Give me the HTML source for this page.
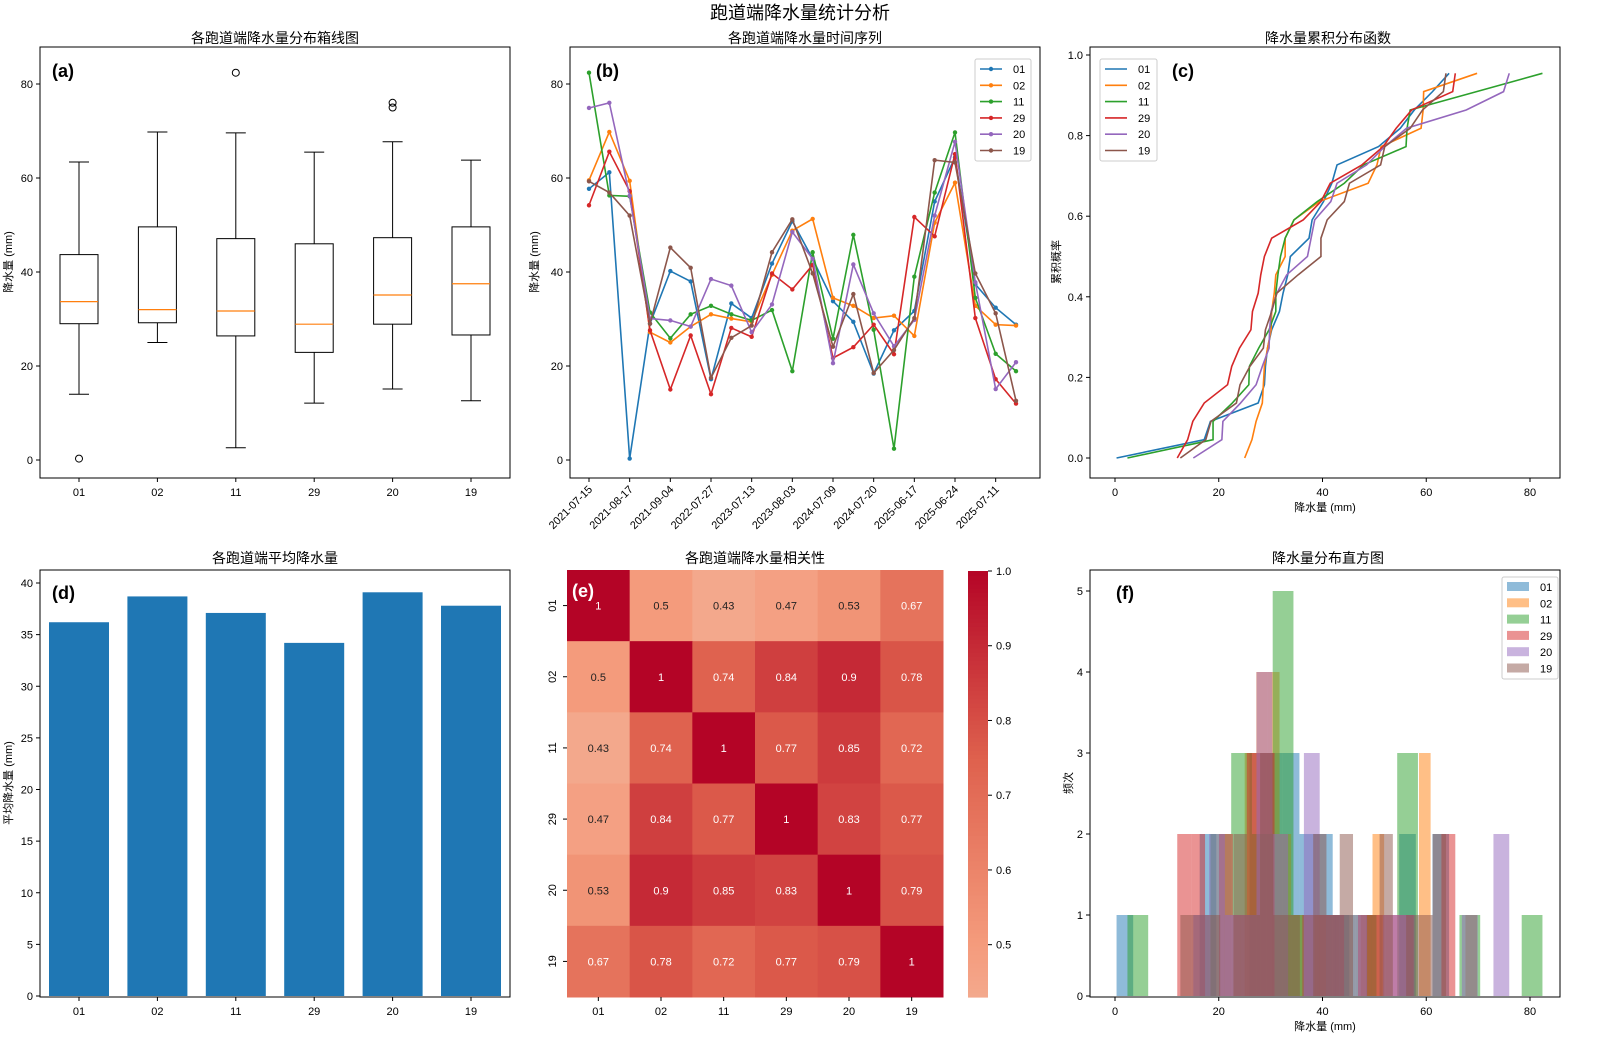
<!DOCTYPE html>
<html><head><meta charset="utf-8">
<style>
body{margin:0;background:#fff;}
svg{display:block;font-family:"Liberation Sans","Noto Sans CJK SC",sans-serif;}
</style></head>
<body>
<svg id="fig" width="1600" height="1056" viewBox="0 0 1600 1056" xmlns="http://www.w3.org/2000/svg"></svg>
<script>
const runways = ['01','02','11','29','20','19'];
const dates = ['2021-07-15','2021-08-17','2021-09-04','2022-07-27','2023-07-13','2023-08-03','2024-07-09','2024-07-20','2025-06-17','2025-06-24','2025-07-11'];
const s01 = [57.7,61.2,0.3,29,40.2,38,17.2,33.3,30.2,41.8,50.8,42.8,33.8,29.4,18.4,27.6,31.7,55,64.4,37.4,32.4,28.8];
const s02 = [59.5,69.8,59.4,27.2,25,28.4,31,30.1,29.4,39.4,48.8,51.3,34.5,32.8,30.2,30.7,26.4,50.5,59,32.8,28.8,28.6];
const s11 = [82.4,56.3,56.1,31.4,25.9,31,32.8,31,29.7,31.9,18.9,44.2,25.8,47.9,27.7,2.4,39,56.9,69.7,34.5,22.6,18.9];
const s29 = [54.2,65.6,57.2,27.6,15,26.5,14,28.1,26.2,39.7,36.3,41.5,21.7,24,28.8,22.5,51.7,47.6,65.1,30.2,17.2,12];
const s20 = [74.9,76,56.2,30.1,29.7,28.4,38.5,37.1,27.2,33.1,48.5,42.8,20.6,41.6,31.2,24.2,29.8,52,67.7,37.8,15.1,20.8];
const s19 = [59.3,56.9,52,29,45.2,40.9,17.5,26,28.6,44.2,51.2,39.7,24.1,35.3,18.5,23.4,30.2,63.8,63.3,39.7,31.2,12.6];
const boxLow = [14,25,2.6,12.1,15.1,12.6];
const boxQ1 = [29,29.2,26.4,22.9,28.9,26.6];
const boxMed = [33.7,32,31.7,28.9,35.1,37.5];
const boxQ3 = [43.7,49.6,47.1,46,47.3,49.6];
const boxHigh = [63.4,69.8,69.6,65.5,67.7,63.8];
const boxOutliers = [[0.3],[],[82.4],[],[75,76],[]];
const means = [36.2,38.7,37.1,34.2,39.1,37.8];
const corr = [
 [1,0.5,0.43,0.47,0.53,0.67],
 [0.5,1,0.74,0.84,0.9,0.78],
 [0.43,0.74,1,0.77,0.85,0.72],
 [0.47,0.84,0.77,1,0.83,0.77],
 [0.53,0.9,0.85,0.83,1,0.79],
 [0.67,0.78,0.72,0.77,0.79,1]];
const ticksA = [0,20,40,60,80];
const ticksC = [0,0.2,0.4,0.6,0.8,1.0];
const ticksCx = [0,20,40,60,80];
const ticksD = [0,5,10,15,20,25,30,35,40];
const ticksF = [0,1,2,3,4,5];
const ticksBar = [0.5,0.6,0.7,0.8,0.9,1.0];
const series = [s01,s02,s11,s29,s20,s19];
const colors = ['#1f77b4','#ff7f0e','#2ca02c','#d62728','#9467bd','#8c564b'];
const NBINS = 20;

const svg = document.getElementById('fig');
const NS='http://www.w3.org/2000/svg';
function mk(tag, attrs, parent){const e=document.createElementNS(NS,tag);for(const k in attrs)e.setAttribute(k,attrs[k]);(parent||svg).appendChild(e);return e;}
function txt(x,y,s,size,anchor,extra){const e=mk('text',Object.assign({x:x,y:y,'font-size':size,'text-anchor':anchor||'middle',fill:'#000'},extra||{}));e.textContent=s;return e;}

let t=txt(800,19,'跑道端降水量统计分析',18);



function frame(x0,y0,x1,y1,name){const r=mk('rect',{x:x0,y:y0,width:x1-x0,height:y1-y0,fill:'none',stroke:'#000','stroke-width':1});

}
function ytick(x,y,label,name){const l=mk('line',{x1:x-4,y1:y,x2:x,y2:y,stroke:'#000'});


const e=txt(x-7,y+4,label,11,'end');

}
function xtick(x,y,label,name){const l=mk('line',{x1:x,y1:y,x2:x,y2:y+4,stroke:'#000'});


const e=txt(x,y+18,label,11);

}
function ptitle(x,y,s,name){const e=txt(x,y,s,14);

}
function plabel(x,y,s,name,fill){const e=txt(x,y,s,18,'start',{'font-weight':'bold',fill:fill||'#000'});

}
function vlabel(x,y,s,name){const e=txt(x,y,s,11,'middle',{transform:'rotate(-90 '+x+' '+y+')'});

}

// ===== (a) box plot =====
const ax0={x0:40,x1:510,y0:47,y1:478};
const aY=v=>460-v*4.7, catX=i=>79+i*78.4;
ptitle(275,43,'各跑道端降水量分布箱线图','box-title');
frame(ax0.x0,ax0.y0,ax0.x1,ax0.y1,'box-axes');
ticksA.forEach(v=>ytick(ax0.x0,aY(v),String(v),'box-y'));
runways.forEach((r,i)=>{
 const cx=catX(i);xtick(cx,ax0.y1,r,'box-x');
 let b=mk('rect',{x:cx-19,y:aY(boxQ3[i]),width:38,height:aY(boxQ1[i])-aY(boxQ3[i]),fill:'none',stroke:'#000'});
 
 
 let m=mk('line',{x1:cx-19,x2:cx+19,y1:aY(boxMed[i]),y2:aY(boxMed[i]),stroke:'#ff7f0e','stroke-width':1.2});
 
 
 [[boxQ1[i],boxLow[i]],[boxQ3[i],boxHigh[i]]].forEach(p=>{
  let w=mk('line',{x1:cx,x2:cx,y1:aY(p[0]),y2:aY(p[1]),stroke:'#000'});
  
  
  let c=mk('line',{x1:cx-10,x2:cx+10,y1:aY(p[1]),y2:aY(p[1]),stroke:'#000'});
  
  
 });
 boxOutliers[i].forEach(v=>{let o=mk('circle',{cx:cx,cy:aY(v),r:3.5,fill:'none',stroke:'#000'});
  
  });
});
vlabel(12,262,'降水量 (mm)','box-y-title');
plabel(52,77,'(a)','panel-label-a');

// ===== (b) time series =====
const bx={x0:570,x1:1040,y0:47,y1:478};
const bX=i=>589+i*(1016-589)/21, bY=v=>460-v*4.7;
ptitle(805,43,'各跑道端降水量时间序列','ts-title');
frame(bx.x0,bx.y0,bx.x1,bx.y1,'ts-axes');
ticksA.forEach(v=>ytick(bx.x0,bY(v),String(v),'ts-y'));
dates.forEach((d,k)=>{const x=bX(k*2);
 let l=mk('line',{x1:x,y1:bx.y1,x2:x,y2:bx.y1+4,stroke:'#000'});
 
 
 let e=txt(x+4,bx.y1+12,d,11,'end',{transform:'rotate(-45 '+(x+4)+' '+(bx.y1+12)+')'});
 
 });
series.forEach((s,k)=>{
 let pl=mk('polyline',{points:s.map((v,i)=>bX(i)+','+bY(v)).join(' '),fill:'none',stroke:colors[k],'stroke-width':1.6});
 
 
 s.forEach((v,i)=>{let c=mk('circle',{cx:bX(i),cy:bY(v),r:2.2,fill:colors[k]});
  
  });
});
vlabel(538,262,'降水量 (mm)','ts-y-title');
plabel(596,77,'(b)','panel-label-b');
function legend(x,y,w,name,kind){
 let r=mk('rect',{x:x,y:y,width:w,height:102,fill:'#fff','fill-opacity':0.85,stroke:'#ccc',rx:2});
 
 
 runways.forEach((rw,k)=>{const yy=y+10+k*16.3;
  if(kind==='bar'){let b=mk('rect',{x:x+5,y:yy-5,width:22,height:9,fill:colors[k],'fill-opacity':0.5});
   
   }
  else{let l=mk('line',{x1:x+5,x2:x+27,y1:yy,y2:yy,stroke:colors[k],'stroke-width':1.6});
   
   
   if(kind==='marker'){let c=mk('circle',{cx:x+16,cy:yy,r:2.2,fill:colors[k]});
    
    }}
  let e=txt(x+38,yy+4,rw,11,'start');
  
  });
}
legend(975,59,56,'ts-legend','marker');

// ===== (c) CDF =====
const cx0={x0:1090,x1:1560,y0:47,y1:478};
const cX=v=>1115+v*(1530-1115)/80, cY=p=>458-p*403;
ptitle(1328,43,'降水量累积分布函数','cdf-title');
frame(cx0.x0,cx0.y0,cx0.x1,cx0.y1,'cdf-axes');
ticksC.forEach(v=>ytick(cx0.x0,cY(v),v.toFixed(1),'cdf-y'));
ticksCx.forEach(v=>xtick(cX(v),cx0.y1,String(v),'cdf-x'));
series.forEach((s,k)=>{const so=s.slice().sort((a,b)=>a-b);
 let pl=mk('polyline',{points:so.map((v,i)=>cX(v)+','+cY(i/so.length)).join(' '),fill:'none',stroke:colors[k],'stroke-width':1.6});
 
 });
vlabel(1060,262,'累积概率','cdf-y-title');
t=txt(1325,511,'降水量 (mm)',11);


plabel(1172,77,'(c)','panel-label-c');
legend(1100,59,57,'cdf-legend','line');

// ===== (d) means =====
const dx={x0:40,x1:510,y0:570,y1:997};
const dY=v=>996-v*(996-583)/40;
ptitle(275,563,'各跑道端平均降水量','mean-title');
frame(dx.x0,dx.y0,dx.x1,dx.y1,'mean-axes');
ticksD.forEach(v=>ytick(dx.x0,dY(v),String(v),'mean-y'));
means.forEach((m,i)=>{const c=catX(i);
 let b=mk('rect',{x:c-30,y:dY(m),width:60,height:dY(0)-dY(m),fill:'#1f77b4'});
 
 
 xtick(c,dx.y1,runways[i],'mean-x');});
vlabel(12,783,'平均降水量 (mm)','mean-y-title');
plabel(52,599,'(d)','panel-label-d');

// ===== (e) heatmap =====
const stops=[[0.5,[221,220,220]],[0.625,[242,200,180]],[0.75,[244,155,124]],[0.875,[222,96,77]],[1,[180,4,38]]];
function cw(r){const t=(r+1)/2;for(let i=1;i<stops.length;i++){if(t<=stops[i][0]){const a=stops[i-1],b=stops[i],f=(t-a[0])/(b[0]-a[0]);return 'rgb('+a[1].map((c,j)=>Math.round(c+(b[1][j]-c)*f)).join(',')+')';}}return 'rgb(180,4,38)';}
const eX0=567,eY0=570,cwid=(943-567)/6,chei=(997-570)/6;
ptitle(755,563,'各跑道端降水量相关性','corr-title');
corr.forEach((row,i)=>row.forEach((v,j)=>{
 let r=mk('rect',{x:eX0+j*cwid,y:eY0+i*chei,width:cwid+0.5,height:chei+0.5,fill:cw(v)});
 
 
 let e=txt(eX0+(j+0.5)*cwid,eY0+(i+0.5)*chei+4,String(v),11,'middle',{fill:v>0.6?'#fff':'#222'});
 
 }));
runways.forEach((r,i)=>{
 xtick(eX0+(i+0.5)*cwid,997,r,'corr-x');
 const y=eY0+(i+0.5)*chei;
 let l=mk('line',{x1:563,x2:567,y1:y,y2:y,stroke:'#000'});
 
 
 let e=txt(556,y,r,11,'middle',{transform:'rotate(-90 556 '+y+')'});
 
 });
plabel(572,597,'(e)','panel-label-e','#fff');
const cbY=v=>571+(1-v)*(997-571)/0.57;
for(let k=0;k<100;k++){const v0=0.43+k*0.57/100,v1=v0+0.57/100;
 let r=mk('rect',{x:968,y:cbY(v1),width:20,height:cbY(v0)-cbY(v1)+0.6,fill:cw(v0)});
 
 }
ticksBar.forEach(v=>{let l=mk('line',{x1:988,x2:992,y1:cbY(v),y2:cbY(v),stroke:'#000'});
 
 
 let e=txt(996,cbY(v)+4,v.toFixed(1),11,'start');
 
 });

// ===== (f) histogram =====
const fx={x0:1090,x1:1560,y0:570,y1:997};
const fY=c=>996-c*(996-591)/5;
ptitle(1328,563,'降水量分布直方图','hist-title');
series.forEach((s,k)=>{const mn=Math.min(...s),mx=Math.max(...s),w=(mx-mn)/NBINS;const cnt=new Array(NBINS).fill(0);
 s.forEach(v=>{let b=Math.floor((v-mn)/w);if(b>NBINS-1)b=NBINS-1;cnt[b]++;});
 cnt.forEach((c,b)=>{if(!c)return;
  let r=mk('rect',{x:cX(mn+b*w),y:Math.max(fY(c),fx.y0),width:cX(mn+(b+1)*w)-cX(mn+b*w),height:fY(0)-Math.max(fY(c),fx.y0),fill:colors[k],'fill-opacity':0.5});
  
  });});
frame(fx.x0,fx.y0,fx.x1,fx.y1,'hist-axes');
ticksF.forEach(v=>ytick(fx.x0,fY(v),String(v),'hist-y'));
ticksCx.forEach(v=>xtick(cX(v),fx.y1,String(v),'hist-x'));
vlabel(1072,783,'频次','hist-y-title');
t=txt(1325,1030,'降水量 (mm)',11);


plabel(1116,599,'(f)','panel-label-f');
legend(1502,577,56,'hist-legend','bar');
</script>
</body></html>
